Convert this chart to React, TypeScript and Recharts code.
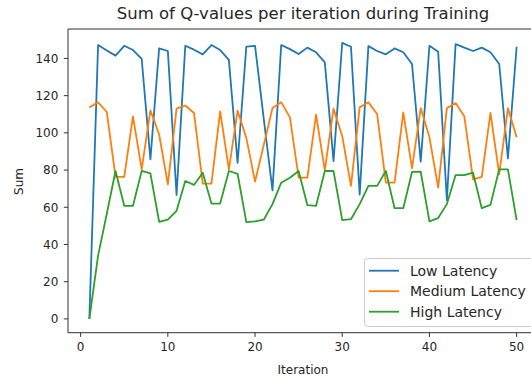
import { LineChart, Line, XAxis, YAxis } from 'recharts';

const iterations = Array.from({ length: 50 }, (_, i) => i + 1);

const lowLatency = [
  0, 147.2, 144.3, 141.5, 146.8, 144.5, 139.7, 85.7, 145.4, 144.0,
  66.6, 146.8, 144.7, 142.2, 147.2, 144.5, 139.2, 83.9, 146.3, 146.8,
  107.5, 69.1, 147.2, 145.0, 142.4, 145.8, 143.3, 137.9, 84.8, 148.4,
  146.3, 66.8, 146.6, 144.0, 142.2, 145.4, 143.3, 137.0, 84.5, 146.8,
  143.6, 63.8, 147.7, 145.8, 144.0, 145.8, 143.3, 137.0, 86.2, 146.3,
];

const mediumLatency = [
  113.7, 116.4, 111.2, 76.3, 76.3, 108.9, 80.4, 112.1, 99.1, 72.3,
  113.0, 114.7, 110.7, 72.7, 72.7, 111.5, 80.4, 111.9, 97.3, 73.8,
  93.5, 113.3, 116.5, 108.3, 75.9, 75.9, 109.8, 79.8, 113.0, 98.2,
  71.5, 113.7, 116.4, 110.1, 73.2, 73.2, 111.0, 80.9, 113.3, 97.6,
  70.6, 113.3, 116.0, 108.9, 75.0, 76.3, 110.7, 77.7, 113.3, 97.6,
];

const highLatency = [
  0, 34.0, 56.5, 79.5, 60.8, 60.8, 79.5, 78.2, 52.2, 53.3,
  58.1, 74.1, 72.0, 78.6, 62.0, 62.0, 79.5, 78.0, 52.0, 52.4,
  53.3, 61.7, 73.2, 75.9, 79.5, 61.1, 60.8, 79.5, 79.5, 53.1,
  53.6, 61.7, 71.5, 71.5, 79.5, 59.5, 59.5, 79.0, 79.1, 52.4,
  54.2, 61.7, 77.3, 77.3, 78.6, 59.5, 61.3, 80.4, 80.4, 53.1,
];

const xTicks = [0, 10, 20, 30, 40, 50];
const yTicks = [0, 20, 40, 60, 80, 100, 120, 140];

const series = [
  { key: 'low', name: 'Low Latency', color: '#1f77b4' },
  { key: 'medium', name: 'Medium Latency', color: '#ff7f0e' },
  { key: 'high', name: 'High Latency', color: '#2ca02c' },
];

const data = iterations.map((it, i) => ({
  iteration: it,
  low: lowLatency[i],
  medium: mediumLatency[i],
  high: highLatency[i],
}));

const FONT = '"DejaVu Sans", sans-serif';
const AXIS = '#333';
const TEXT = '#262626';

export default function App() {
  return (
    <div
      style={{
        position: 'absolute',
        left: 0,
        top: 0,
        width: 531,
        height: 378,
        overflow: 'hidden',
        background: '#fff',
        fontFamily: FONT,
      }}
    >
      <LineChart width={560} height={378} data={data} margin={{ top: 28, right: 22, bottom: 0, left: 0 }}>
        <XAxis
          dataKey="iteration"
          type="number"
          domain={[-1.45, 52.45]}
          ticks={xTicks}
          allowDataOverflow
          height={45.3}
          stroke={AXIS}
          tickSize={4.2}
          tickMargin={6}
          tick={{ fill: TEXT, fontSize: 12, fontFamily: FONT }}
        />
        {/* top spine */}
        <XAxis
          xAxisId="top"
          orientation="top"
          type="number"
          domain={[-1.45, 52.45]}
          height={1}
          tick={false}
          tickLine={false}
          stroke={AXIS}
        />
        <YAxis
          type="number"
          domain={[-7.42, 155.82]}
          ticks={yTicks}
          allowDataOverflow
          width={68}
          stroke={AXIS}
          tickSize={4.2}
          tickMargin={5.5}
          tick={{ fill: TEXT, fontSize: 12, fontFamily: FONT }}
        />
        {series.map((s) => (
          <Line
            key={s.key}
            type="linear"
            dataKey={s.key}
            name={s.name}
            stroke={s.color}
            strokeWidth={1.8}
            strokeLinejoin="round"
            dot={false}
            activeDot={false}
            isAnimationActive={false}
          />
        ))}
      </LineChart>

      {/* title, axis labels and legend */}
      <svg
        width={531}
        height={378}
        style={{ position: 'absolute', left: 0, top: 0, pointerEvents: 'none' }}
        fontFamily={FONT}
      >
        <text x={303} y={18.8} textAnchor="middle" fontSize={16.5} fill={TEXT}>
          Sum of Q-values per iteration during Training
        </text>
        <text x={303} y={373.8} textAnchor="middle" fontSize={12} fill={TEXT}>
          Iteration
        </text>
        <text x={23} y={181.5} textAnchor="middle" fontSize={12} fill={TEXT} transform="rotate(-90 23 181.5)">
          Sum
        </text>
        <rect x={364.5} y={258.5} width={175} height={68} rx={3} fill="rgba(255,255,255,0.8)" stroke="#cccccc" />
        {series.map((s, i) => {
          const cy = 270.7 + i * 20.5;
          return (
            <g key={s.key}>
              <line x1={369} x2={399} y1={cy} y2={cy} stroke={s.color} strokeWidth={1.8} />
              <text x={410} y={cy + 5.1} fontSize={14} fill={TEXT}>
                {s.name}
              </text>
            </g>
          );
        })}
      </svg>
    </div>
  );
}
